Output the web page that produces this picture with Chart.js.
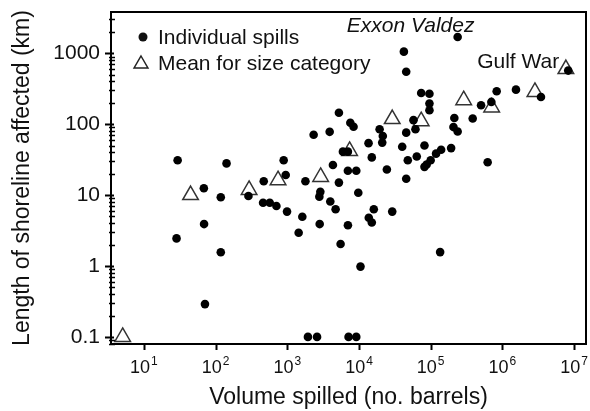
<!DOCTYPE html>
<html>
<head>
<meta charset="utf-8">
<script src="https://cdn.jsdelivr.net/npm/chart.js@4.4.0/dist/chart.umd.min.js"></script>
<style>
  html, body { margin: 0; padding: 0; background: #fff; }
</style>
</head>
<body>
<canvas id="spillChart" width="590" height="411"></canvas>
<script>
// individual spills: volume (barrels) and shoreline affected (km)
const spillVolume = [
  29.5, 142, 68.5, 118, 287, 469, 459, 569, 705, 991, 69, 28.5, 118, 71,
  5250, 7570, 8400, 2330, 3900, 19400, 21500, 21100, 57600, 45600, 61400, 13600, 40100, 5970, 7000, 15100, 48000, 64000,
  4330, 890, 950, 1790, 5250, 7000, 9170, 24500, 45600, 2890, 2800, 9780,
  1620, 1440, 3980, 4720, 2830, 7010, 16100, 13700, 15100, 29100, 5540, 10500, 1940, 2600, 7160, 9170,
  135600, 238000, 8.3e6, 3.46e6, 1.55e6, 834000, 703000, 505000, 386000, 214000, 208000, 238000,
  73800, 96200, 96200, 96200, 45600, 42300, 82000, 193000, 140000, 119000, 100000, 88000, 82000, 624000
];
const spillLength = [
  31, 28, 12.5, 9.3, 9.7, 15.7, 7.8, 7.8, 7.0, 5.85, 3.9, 2.45, 1.56, 0.29,
  145, 105, 92, 71, 78, 85, 68, 55, 114, 76, 85, 54, 48, 41, 41, 34, 31, 35,
  26.6, 31, 19.2, 15.7, 15, 22, 22, 23, 17, 11.1, 9.5, 10.8,
  4.95, 2.95, 8.1, 6.3, 3.9, 3.75, 6.3, 4.8, 4.1, 5.85, 2.04, 0.98, 0.1, 0.1, 0.1, 0.1,
  1.57, 1700, 570, 242, 307, 291, 206, 185, 120, 122, 91, 79,
  275, 269, 195, 157, 550, 1054, 50, 46, 43.6, 38.4, 31, 27, 25, 29
];

// mean for each size category
const meanVolume = [5.05, 44.7, 293, 743, 2920, 7400, 29100, 73800, 289000, 710000, 2.85e6, 7.7e6];
const meanLength = [0.1, 10, 11.8, 16.2, 18, 42, 118, 110, 218, 172, 285, 600];

// axis ticks (x labels are 10 to the power of the exponent)
const xTickValues = [1e1, 1e2, 1e3, 1e4, 1e5, 1e6, 1e7];
const xTickExponents = ['1', '2', '3', '4', '5', '6', '7'];
const yTickValues = [0.1, 1, 10, 100, 1000];
const yTickLabels = ['0.1', '1', '10', '100', '1000'];

const yMinorTicks = [];
for (let e = -2; e <= 3; e++) {
  for (let m = 2; m <= 9; m++) {
    const v = m * Math.pow(10, e);
    if (v > 0.0794 && v < 3820) yMinorTicks.push(v);
  }
}

const FONT = "'Liberation Sans', Arial, 'DejaVu Sans', sans-serif";

const toPoints = (xs, ys) => xs.map((v, i) => ({ x: v, y: ys[i] }));

// no extra room for overhanging tick labels, the box sizes are fixed
const noLabelPadding = s => {
  s.paddingLeft = s.paddingRight = s.paddingTop = s.paddingBottom = 0;
};

// box around the plot, tick marks, and the 10^n labels of the x axis
const frameAndTicks = {
  id: 'frameAndTicks',
  afterDatasetsDraw(chart) {
    const { ctx, chartArea: a, scales: { x, y } } = chart;
    ctx.save();
    ctx.strokeStyle = '#000';
    ctx.lineWidth = 2;
    ctx.strokeRect(a.left, a.top, a.right - a.left, a.bottom - a.top);

    ctx.beginPath();
    yTickValues.forEach(v => {
      const py = Math.round(y.getPixelForValue(v)) + 0.5;
      ctx.moveTo(a.left - 6, py);
      ctx.lineTo(a.left + 3, py);
    });
    xTickValues.forEach(v => {
      const px = Math.round(x.getPixelForValue(v)) + 0.5;
      ctx.moveTo(px, a.bottom);
      ctx.lineTo(px, a.bottom + 6);
    });
    ctx.stroke();

    ctx.lineWidth = 1.5;
    ctx.beginPath();
    yMinorTicks.forEach(v => {
      const py = Math.round(y.getPixelForValue(v)) + 0.5;
      ctx.moveTo(a.left - 2, py);
      ctx.lineTo(a.left + 4, py);
    });
    ctx.stroke();

    // 10 with a raised exponent
    ctx.fillStyle = '#111';
    ctx.textBaseline = 'alphabetic';
    ctx.textAlign = 'left';
    xTickValues.forEach((v, i) => {
      const px = x.getPixelForValue(v);
      ctx.font = '18px ' + FONT;
      const wBase = ctx.measureText('10').width;
      ctx.font = '12px ' + FONT;
      const wExp = ctx.measureText(xTickExponents[i]).width;
      const start = px - (wBase + wExp + 1) / 2;
      ctx.font = '18px ' + FONT;
      ctx.fillText('10', start, a.bottom + 29);
      ctx.font = '12px ' + FONT;
      ctx.fillText(xTickExponents[i], start + wBase + 1, a.bottom + 21);
    });
    ctx.restore();
  }
};

// legend inside the plot and the two labelled spills
const notesAndLegend = {
  id: 'notesAndLegend',
  afterDraw(chart) {
    const { ctx, chartArea: a, scales: { x, y } } = chart;
    ctx.save();
    ctx.fillStyle = '#111';
    ctx.textBaseline = 'middle';
    ctx.font = '21px ' + FONT;

    // legend
    const lx = a.left + 32;
    ctx.beginPath();
    ctx.arc(lx, a.top + 25, 4.5, 0, Math.PI * 2);
    ctx.fill();
    ctx.fillText('Individual spills', a.left + 47, a.top + 26);

    const ty = a.top + 52;
    const r = 8;
    ctx.strokeStyle = '#222';
    ctx.lineWidth = 1.5;
    ctx.beginPath();
    ctx.moveTo(lx - 2, ty - r);
    ctx.lineTo(lx - 2 + r * 0.866, ty + r / 2);
    ctx.lineTo(lx - 2 - r * 0.866, ty + r / 2);
    ctx.closePath();
    ctx.stroke();
    ctx.fillText('Mean for size category', a.left + 47, a.top + 52);

    // annotations next to their spills
    ctx.textBaseline = 'alphabetic';
    ctx.font = 'italic 21px ' + FONT;
    ctx.textAlign = 'center';
    ctx.fillText('Exxon Valdez', x.getPixelForValue(238000) - 47, y.getPixelForValue(1700) - 5);

    ctx.font = '21px ' + FONT;
    ctx.textAlign = 'right';
    ctx.fillText('Gulf War', x.getPixelForValue(8.3e6) - 9, y.getPixelForValue(570) - 3);
    ctx.restore();
  }
};

new Chart(document.getElementById('spillChart'), {
  type: 'scatter',
  data: {
    datasets: [
      {
        label: 'Individual spills',
        data: toPoints(spillVolume, spillLength),
        pointStyle: 'circle',
        pointRadius: 4.3,
        backgroundColor: '#000',
        borderColor: '#000',
        borderWidth: 0,
        order: 0
      },
      {
        label: 'Mean for size category',
        data: toPoints(meanVolume, meanLength),
        pointStyle: 'triangle',
        pointRadius: 9,
        backgroundColor: 'rgba(255,255,255,0)',
        borderColor: '#333',
        borderWidth: 1.5,
        order: 1
      }
    ]
  },
  options: {
    responsive: false,
    devicePixelRatio: 1,
    animation: false,
    clip: false,
    layout: { autoPadding: false, padding: { top: 12, right: 4, left: 0, bottom: 0 } },
    plugins: {
      legend: { display: false },
      tooltip: { enabled: false }
    },
    scales: {
      x: {
        type: 'logarithmic',
        min: 3.47,
        max: 1.47e7,
        afterFit: s => { s.height = 67; noLabelPadding(s); },
        afterBuildTicks: s => { s.ticks = xTickValues.map(v => ({ value: v })); },
        grid: { display: false, drawTicks: false },
        border: { display: false },
        ticks: { display: false },
        title: {
          display: true,
          text: 'Volume spilled (no. barrels)',
          color: '#111',
          font: { family: FONT, size: 23 },
          padding: 0
        }
      },
      y: {
        type: 'logarithmic',
        min: 0.0794,
        max: 3820,
        afterFit: s => { s.width = 111; noLabelPadding(s); },
        afterBuildTicks: s => { s.ticks = yTickValues.map(v => ({ value: v })); },
        grid: { display: false, drawTicks: false },
        border: { display: false },
        ticks: {
          autoSkip: false,
          padding: 11,
          color: '#111',
          font: { family: FONT, size: 21 },
          callback: v => yTickLabels[yTickValues.indexOf(v)]
        },
        title: {
          display: true,
          text: 'Length of shoreline affected (km)',
          color: '#111',
          font: { family: FONT, size: 23 },
          padding: { top: 9, bottom: 0 }
        }
      }
    }
  },
  plugins: [frameAndTicks, notesAndLegend]
});
</script>
</body>
</html>
